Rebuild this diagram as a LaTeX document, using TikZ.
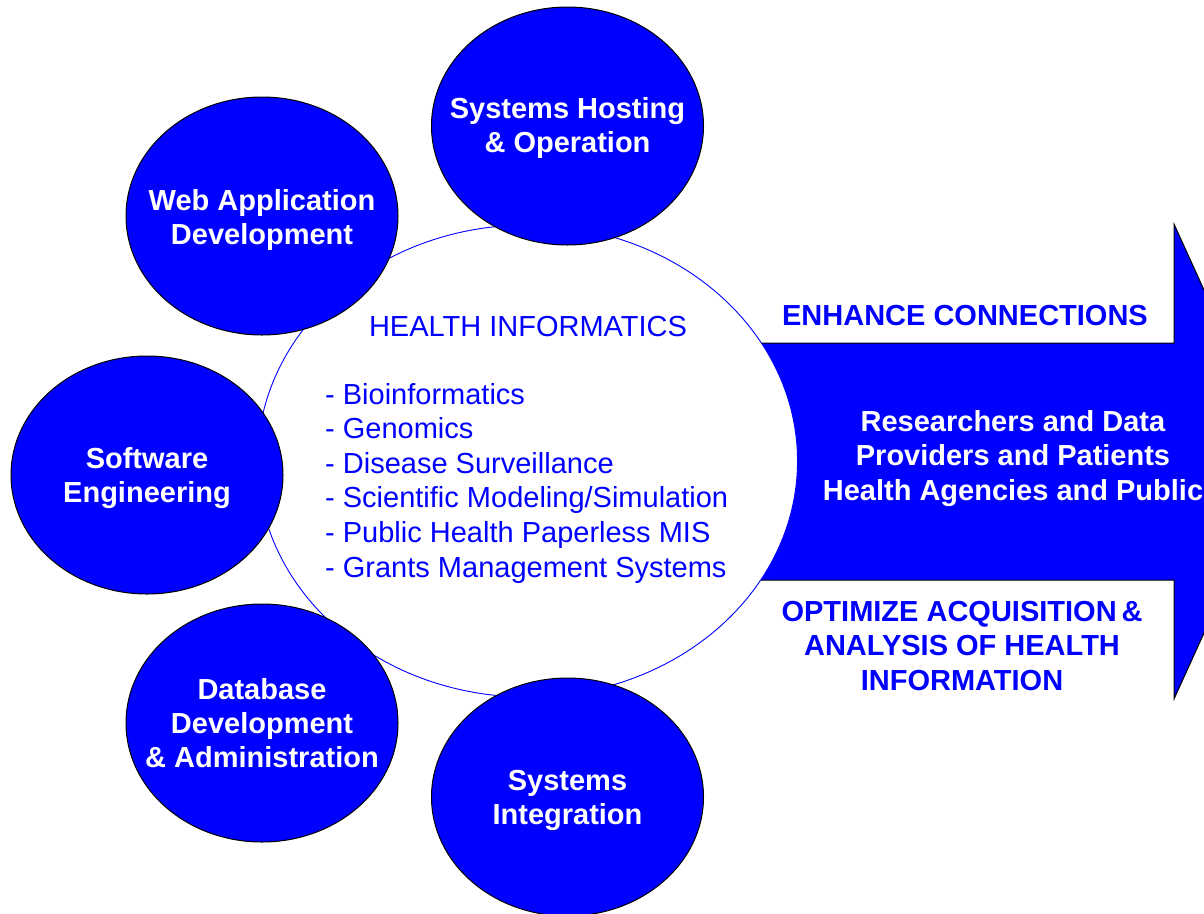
\documentclass[tikz,border=0pt]{standalone}
\usepackage{fontspec}
\setmainfont{Liberation Sans}
\usetikzlibrary{shapes.geometric}

\begin{document}
\begin{tikzpicture}[x=1pt,y=-1pt,
    bubble/.style={ellipse, draw=black, fill=blue, line width=1pt,
      minimum width=272pt, minimum height=238pt, inner sep=0pt},
    bubtext/.style={text=white, font=\bfseries\fontsize{29}{34}\selectfont, align=center, yshift=-3.5pt},
    hitext/.style={text=blue, font=\fontsize{29}{34.6}\selectfont, inner sep=0pt},
    arrtext/.style={text=blue, font=\bfseries\fontsize{29}{34.5}\selectfont, align=center}]
  \clip (0,0) rectangle (1204,913);

  % big arrow behind the centre
  \coordinate (tail) at (700,343);
  \filldraw[fill=blue, draw=black, line width=1pt]
    (tail) -- (1174,343) -- (1174,224) -- (1282,461.5) -- (1174,699)
    -- (1174,580) -- (700,580) -- cycle;

  % centre
  \node[ellipse, draw=blue, fill=white, line width=0.9pt, minimum width=540pt,
    minimum height=472pt, inner sep=0pt] (hi) at (527.5,461) {};
  \node[hitext, anchor=base] (hititle) at (528,336.5) {HEALTH INFORMATICS};
  \foreach \txt [count=\i] in {Bioinformatics, Genomics, Disease Surveillance,
      Scientific Modeling/Simulation, Public Health Paperless MIS,
      Grants Management Systems}
    \node[hitext, anchor=base west] (item\i) at (325,404+34.6*\i-34.6) {- \txt};

  % services round the centre
  \node[bubble] (host) at (567.5,126) {};
  \node[bubble] (web) at (262,216) {};
  \node[bubble] (soft) at (147,475) {};
  \node[bubble] (db) at (262,723) {};
  \node[bubble] (integ) at (567.5,797) {};
  \node[bubtext, yshift=1.5pt] (hostt) at (host) {Systems Hosting\\\& Operation};
  \node[bubtext] (webt) at (web) {Web Application\\Development};
  \node[bubtext] (softt) at (soft) {Software\\Engineering};
  \node[bubtext, yshift=3.5pt] (dbt) at (db) {Database\\Development\\\& Administration};
  \node[bubtext] (integt) at (integ) {Systems\\Integration};

  % arrow labels
  \node[arrtext] (enh) at (965,316) {ENHANCE CONNECTIONS};
  \node[arrtext, text=white] (who) at (1013,458.5)
    {Researchers and Data\\Providers and Patients\\Health Agencies and Public};
  \node[arrtext] (opt) at (962,646)
    {OPTIMIZE ACQUISITION\,\&\\ANALYSIS OF HEALTH\\INFORMATION};
\end{tikzpicture}
\end{document}
